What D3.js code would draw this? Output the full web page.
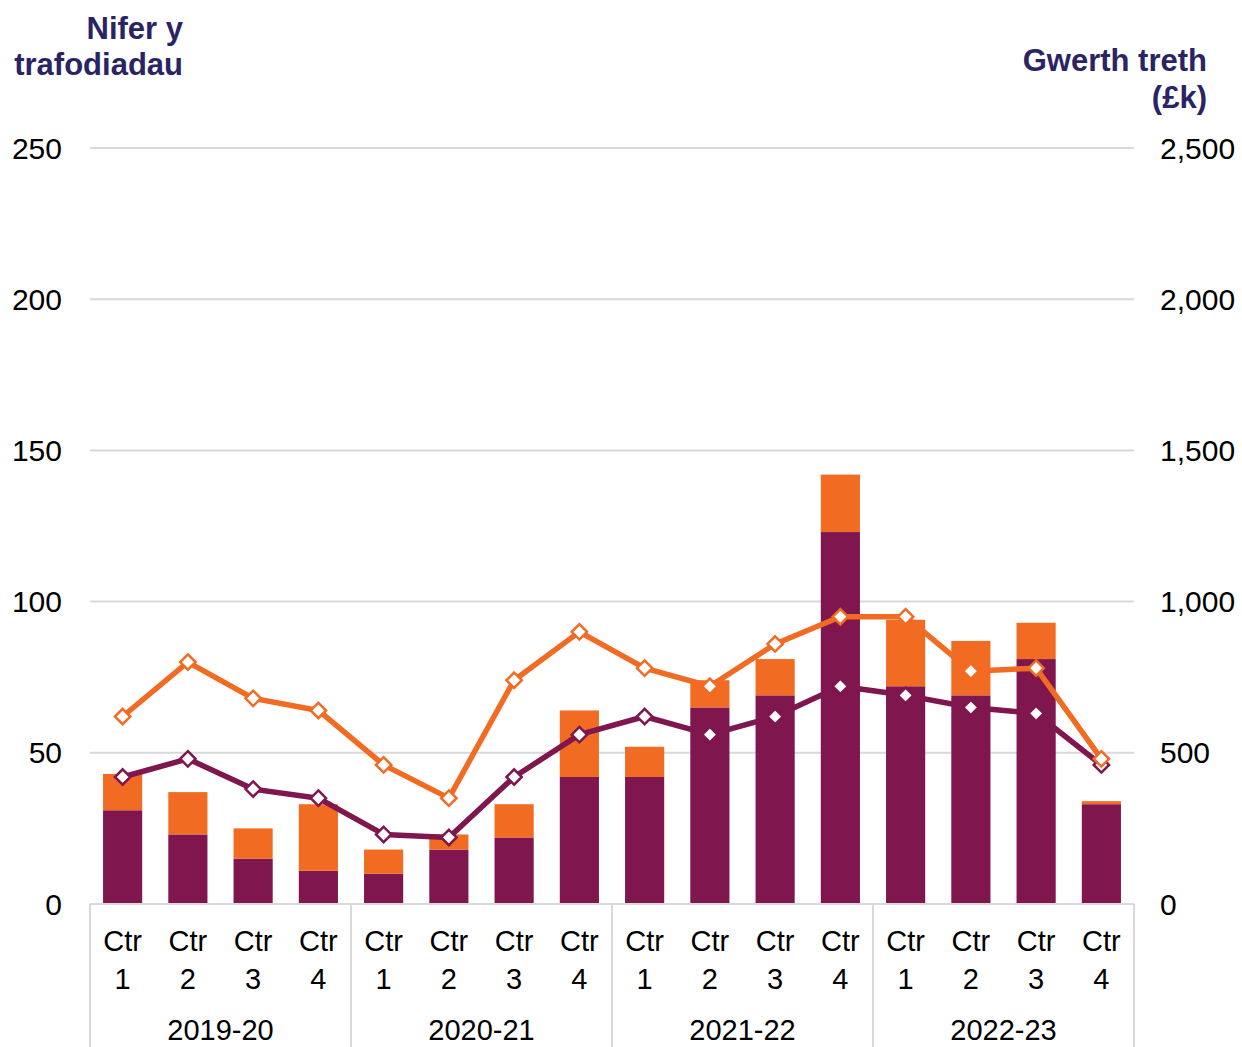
<!DOCTYPE html>
<html>
<head>
<meta charset="utf-8">
<script src="https://cdn.jsdelivr.net/npm/d3@7"></script>
<style>
  body { margin: 0; background: #fff; }
  text { font-family: "Liberation Sans", Arial, sans-serif; }
</style>
</head>
<body>
<div class="viz"></div>
<script>
const width = 1242;
const height = 1047;

// data
const years = ["2019-20", "2020-21", "2021-22", "2022-23"];
const quarters = ["1", "2", "3", "4"];
const purpleBars = [31, 23, 15, 11, 10, 18, 22, 42, 42, 65, 69, 123, 72, 69, 81, 33];
const orangeBars = [12, 14, 10, 22, 8, 5, 11, 22, 10, 9, 12, 19, 22, 18, 12, 1];
const orangeLine = [620, 800, 680, 640, 460, 350, 740, 900, 780, 720, 860, 950, 950, 770, 780, 480];
const purpleLine = [420, 480, 380, 350, 230, 220, 420, 560, 620, 560, 620, 720, 690, 650, 630, 460];
const leftTicks = [0, 50, 100, 150, 200, 250];
const rightTicks = [0, 500, 1000, 1500, 2000, 2500];

const purple = "#7f164e";
const orange = "#f26b23";
const navy = "#2b2464";
const grid = "#d9d9d9";

const margin = { top: 148, right: 108, bottom: 143, left: 90 };
const x0 = margin.left, x1 = width - margin.right;
const yTop = margin.top, yBot = height - margin.bottom;

const cats = [];
years.forEach(yr => quarters.forEach(q => cats.push(yr + "|" + q)));

const svg = d3.select(".viz")
    .append("svg")
    .attr("width", width)
    .attr("height", height);

const x = d3.scaleBand().domain(cats).range([x0, x1]).paddingInner(0.4).paddingOuter(0.2);
const yL = d3.scaleLinear().domain([0, 250]).range([yBot, yTop]);
const yR = d3.scaleLinear().domain([0, 2500]).range([yBot, yTop]);

// gridlines
svg.append("g").selectAll("line")
    .data(leftTicks.filter(d => d > 0))
    .enter().append("line")
    .attr("x1", x0).attr("x2", x1)
    .attr("y1", d => yL(d)).attr("y2", d => yL(d))
    .attr("stroke", grid).attr("stroke-width", 2);

// left axis labels
svg.append("g").selectAll("text")
    .data(leftTicks)
    .enter().append("text")
    .attr("x", 62).attr("y", d => yL(d))
    .attr("dy", "0.35em")
    .attr("text-anchor", "end")
    .style("font-size", "30px")
    .text(d => d);

// right axis labels
const fmt = d3.format(",");
svg.append("g").selectAll("text")
    .data(rightTicks)
    .enter().append("text")
    .attr("x", 1160).attr("y", d => yR(d))
    .attr("dy", "0.35em")
    .attr("text-anchor", "start")
    .style("font-size", "30px")
    .text(d => fmt(d));

// stacked bars
const bw = x.bandwidth();
svg.append("g").selectAll("rect")
    .data(cats)
    .enter().append("rect")
    .attr("x", d => x(d)).attr("width", bw)
    .attr("y", (d, i) => yL(purpleBars[i]))
    .attr("height", (d, i) => yBot - yL(purpleBars[i]))
    .attr("fill", purple);

svg.append("g").selectAll("rect")
    .data(cats)
    .enter().append("rect")
    .attr("x", d => x(d)).attr("width", bw)
    .attr("y", (d, i) => yL(purpleBars[i] + orangeBars[i]))
    .attr("height", (d, i) => yL(purpleBars[i]) - yL(purpleBars[i] + orangeBars[i]))
    .attr("fill", orange);

// x axis
svg.append("line")
    .attr("x1", x0).attr("x2", x1)
    .attr("y1", yBot).attr("y2", yBot)
    .attr("stroke", grid).attr("stroke-width", 2);

const groupW = (x1 - x0) / years.length;
svg.append("g").selectAll("line")
    .data(d3.range(years.length + 1))
    .enter().append("line")
    .attr("x1", d => x0 + d * groupW).attr("x2", d => x0 + d * groupW)
    .attr("y1", yBot).attr("y2", height)
    .attr("stroke", grid).attr("stroke-width", 2);

const catLabels = svg.append("g").selectAll("text")
    .data(cats)
    .enter().append("text")
    .attr("x", d => x(d) + bw / 2)
    .attr("text-anchor", "middle")
    .style("font-size", "29px");
catLabels.append("tspan").attr("x", d => x(d) + bw / 2).attr("y", 951).text("Ctr");
catLabels.append("tspan").attr("x", d => x(d) + bw / 2).attr("y", 989).text(d => d.split("|")[1]);

svg.append("g").selectAll("text")
    .data(years)
    .enter().append("text")
    .attr("x", (d, i) => x0 + (i + 0.5) * groupW)
    .attr("y", 1040)
    .attr("text-anchor", "middle")
    .style("font-size", "29px")
    .text(d => d);

// lines
const cx = d => x(d) + bw / 2;
const line = d3.line().x(d => cx(d.c)).y(d => yR(d.v));
const diamond = d3.symbol().type(d3.symbolDiamond2).size(150);

function drawSeries(values, color) {
    const pts = cats.map((c, i) => ({ c: c, v: values[i] }));
    svg.append("path")
        .datum(pts)
        .attr("d", line)
        .attr("fill", "none")
        .attr("stroke", color)
        .attr("stroke-width", 5.5)
        .attr("stroke-linejoin", "round");
    svg.append("g").selectAll("path")
        .data(pts)
        .enter().append("path")
        .attr("d", diamond)
        .attr("transform", d => `translate(${cx(d.c)},${yR(d.v)})`)
        .attr("fill", "#fff")
        .attr("stroke", color)
        .attr("stroke-width", 2.5);
}
drawSeries(purpleLine, purple);
drawSeries(orangeLine, orange);

// axis titles
const leftTitle = svg.append("text")
    .attr("text-anchor", "end")
    .attr("fill", navy)
    .style("font-size", "31px")
    .style("font-weight", "bold");
leftTitle.append("tspan").attr("x", 183).attr("y", 39).text("Nifer y");
leftTitle.append("tspan").attr("x", 183).attr("y", 75).text("trafodiadau");

const rightTitle = svg.append("text")
    .attr("text-anchor", "end")
    .attr("fill", navy)
    .style("font-size", "31px")
    .style("font-weight", "bold");
rightTitle.append("tspan").attr("x", 1207).attr("y", 71).text("Gwerth treth");
rightTitle.append("tspan").attr("x", 1207).attr("y", 108).text("(£k)");
</script>
</body>
</html>
